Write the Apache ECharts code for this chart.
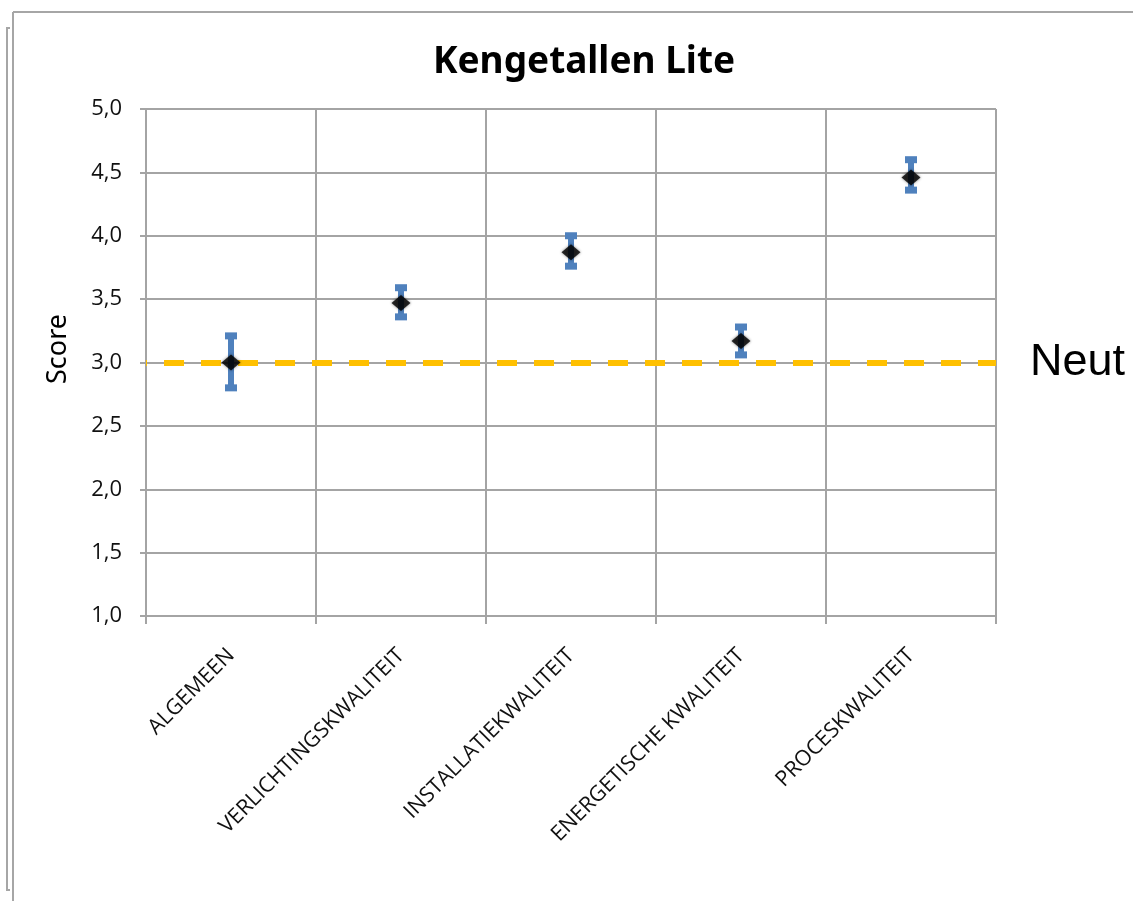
<!DOCTYPE html>
<html>
<head>
<meta charset="utf-8">
<script src="https://cdn.jsdelivr.net/npm/echarts@6/dist/echarts.min.js"></script>
<style>
html,body{margin:0;padding:0;background:#fff;}
#chart{width:1133px;height:901px;}
</style>
</head>
<body>
<div id="chart"></div>
<script>
const categories = ['ALGEMEEN','VERLICHTINGSKWALITEIT','INSTALLATIEKWALITEIT','ENERGETISCHE KWALITEIT','PROCESKWALITEIT'];
const means = [3.0, 3.47, 3.87, 3.17, 4.46];
const lows = [2.8, 3.36, 3.76, 3.06, 4.36];
const highs = [3.21, 3.59, 4.0, 3.28, 4.6];
const neutralValue = 3.0;
const neutralLabel = 'Neut';
const yTicks = [1.0, 1.5, 2.0, 2.5, 3.0, 3.5, 4.0, 4.5, 5.0];
const yAxisTitle = 'Score';

const chart = echarts.init(document.getElementById('chart'));
const gridColor = '#a4a4a4';
const errData = categories.map((c, i) => [i, lows[i], highs[i]]);

chart.setOption({
  animation: false,
  backgroundColor: '#fff',
  title: {
    text: 'Kengetallen Lite',
    left: 579, textAlign: 'center', top: 39,
    textStyle: {fontFamily: 'Noto Sans', fontWeight: 'bold', fontSize: 37, color: '#000'}
  },
  grid: {left: 146, right: 137, top: 109, bottom: 285},
  xAxis: {
    type: 'category', data: categories, boundaryGap: true,
    axisLine: {show: true, lineStyle: {color: gridColor, width: 2}},
    axisTick: {show: true, length: 8, lineStyle: {color: gridColor, width: 2}},
    splitLine: {show: true, lineStyle: {color: gridColor, width: 2}},
    axisLabel: {rotate: 45, margin: 36, interval: 0, fontFamily: 'Open Sans', fontSize: 21.5, color: '#111'}
  },
  yAxis: {
    type: 'value', min: yTicks[0], max: yTicks[yTicks.length - 1], interval: 0.5,
    axisLine: {show: true, lineStyle: {color: gridColor, width: 2}},
    axisTick: {show: true, length: 6, lineStyle: {color: gridColor, width: 2}},
    splitLine: {show: true, lineStyle: {color: gridColor, width: 2}},
    axisLabel: {margin: 24, fontFamily: 'Open Sans', fontSize: 22, color: '#111',
      formatter: v => v.toFixed(1).replace('.', ',')}
  },
  series: [
    {
      type: 'custom',
      data: errData,
      z: 3,
      renderItem: function (params, api) {
        const lo = api.coord([api.value(0), api.value(1)]);
        const hi = api.coord([api.value(0), api.value(2)]);
        const x = lo[0];
        const col = '#4f81bd';
        return {
          type: 'group',
          children: [
            {type: 'line', shape: {x1: x, y1: hi[1], x2: x, y2: lo[1]}, style: {stroke: col, lineWidth: 6}},
            {type: 'rect', shape: {x: x - 6, y: hi[1] - 3.5, width: 12, height: 7}, style: {fill: col}},
            {type: 'rect', shape: {x: x - 6, y: lo[1] - 3.5, width: 12, height: 7}, style: {fill: col}}
          ]
        };
      }
    },
    {
      type: 'scatter',
      data: means,
      symbol: 'diamond',
      symbolSize: [19, 16],
      z: 5,
      itemStyle: {color: '#000', shadowBlur: 3, shadowColor: 'rgba(0,0,0,0.6)'},
      markLine: {
        silent: true,
        symbol: ['none', 'none'],
        z: 2,
        data: [{yAxis: neutralValue}],
        lineStyle: {color: '#ffc000', width: 6, type: [20, 17], dashOffset: 19},
        label: {show: true, position: 'end', distance: 34, formatter: neutralLabel,
          fontFamily: 'Liberation Sans', fontSize: 45, color: '#000'}
      }
    }
  ],
  graphic: [
    {type: 'text', x: 58, y: 349, rotation: Math.PI / 2,
      style: {text: yAxisTitle, align: 'center', verticalAlign: 'middle', fontFamily: 'Noto Sans', fontSize: 27, fill: '#000'}},
    {type: 'line', shape: {x1: 13, y1: 12, x2: 1133, y2: 12}, style: {stroke: '#a6a6a6', lineWidth: 2}},
    {type: 'line', shape: {x1: 13, y1: 12, x2: 13, y2: 901}, style: {stroke: '#a6a6a6', lineWidth: 2}},
    {type: 'polyline', shape: {points: [[10, 28], [7, 28], [7, 890], [10, 890]]}, style: {stroke: '#a6a6a6', lineWidth: 2, fill: null}}
  ]
});
</script>
</body>
</html>
